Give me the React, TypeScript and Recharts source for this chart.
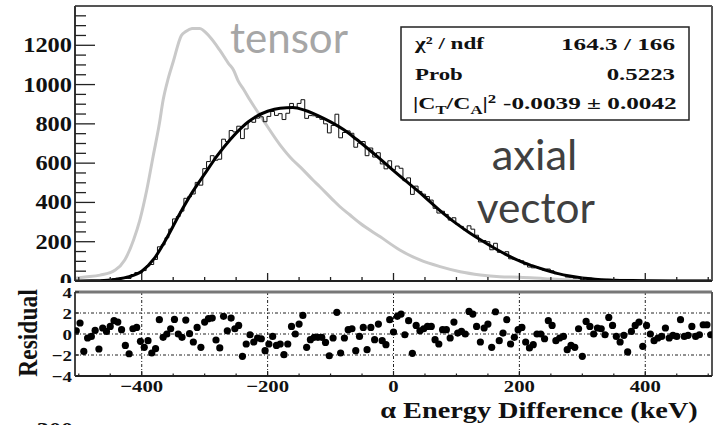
import React from 'react';
import {
  ComposedChart,
  ScatterChart,
  Line,
  Scatter,
  XAxis,
  YAxis,
  ReferenceLine,
  CartesianGrid,
} from 'recharts';

const SERIF = "'Liberation Serif', 'Times New Roman', serif";
const SANS = "Lato, 'Open Sans', sans-serif";

// ---- data -------------------------------------------------------------
const BIN_START = -504; // keV, first bin centre
const BIN_WIDTH = 6; // keV

const HIST_COUNTS = [
  0, 1, 0, 1, 1, 2, 0, 4, 5, 8, 11, 14, 16, 13, 13, 33, 43, 42, 53, 77,
  84, 110, 174, 184, 220, 264, 316, 328, 356, 421, 429, 443, 502, 488, 572, 608, 638, 615, 620, 722,
  710, 766, 759, 788, 725, 774, 814, 808, 829, 836, 811, 838, 863, 843, 852, 822, 854, 904, 880, 904,
  923, 828, 842, 841, 833, 823, 800, 754, 792, 849, 729, 756, 764, 752, 681, 702, 710, 638, 677, 631,
  653, 596, 571, 612, 566, 585, 574, 511, 525, 441, 483, 456, 442, 430, 412, 370, 346, 355, 339, 310,
  322, 289, 278, 260, 281, 264, 233, 199, 206, 200, 159, 192, 146, 144, 149, 113, 111, 109, 103, 83,
  71, 67, 70, 63, 54, 61, 52, 37, 34, 31, 20, 19, 15, 20, 7, 18, 14, 10, 10, 8,
  6, 8, 6, 3, 2, 3, 0, 2, 3, 3, 0, 2, 1, 0, 0, 0, 1, 0, 0, 0,
  1, 0, 0, 1, 0, 0, 1, 1, 0,
];

const RESIDUALS = [
  0.31, 1.05, -1.66, -0.38, -0.23, 0.34, -1.43, 0.57, 0.25, 0.72, 1.27, 1.14, 0.41, -1.09, -1.88, 0.5, 0.63, -0.7, -1.27, -0.64,
  -1.81, -1.4, 1.36, -0.32, 0.0, 0.5, 1.39, 0.0, -0.32, 1.33, 0.03, -0.76, 0.63, -1.27, 1.14, 1.46, 1.52, -0.57, -1.33, 1.68,
  0.31, 1.52, 0.5, 0.82, -2.13, -0.95, -0.07, -0.76, -0.38, -0.45, -1.59, -0.95, -0.23, -1.09, -0.95, -1.97, -0.95, 0.72,
  0.0, 0.95, 1.77, -1.27, -0.54, -0.32, -0.32, -0.32, -0.8, -2.07, -0.38, 2.06, -1.81, -0.38, 0.41, 0.5, -1.59, -0.23, 0.63, -1.49,
  0.63, -0.54, 0.95, -0.64, -1.02, 1.36, 0.19, 1.68, 1.9, -0.07, 1.27, -1.84, 0.82, 0.31, 0.5, 0.72, 0.72, -0.54, -0.95, 0.41,
  0.41, -0.38, 1.14, 0.09, 0.25, 0.0, 2.15, 1.9, 0.72, -0.76, 0.57, 0.95, -1.27, 2.12, -0.64, 0.09, 1.36,
  -0.95, -0.32, 0.41, 0.63, -0.76, -1.33, -1.02, 0.0, 0.0, -0.45, 1.27, 0.82, -0.64, -0.38, -0.23, -1.49, -1.09, -1.27, 0.5, -2.13,
  1.2, 0.72, 0.0, 0.57, 0.5, -0.07, 1.58, 0.82, -0.23, -0.76, -0.13, -1.71, 0.25, 0.82, 1.14, -1.17, 0.82, 0.0, -0.64, -0.38,
  -0.23, 0.57, -0.38, -0.13, -0.23, 1.36, -0.23, -0.13, 0.72, -0.23, -0.07, 0.88, 0.88, -0.07,
];

const FIT_KEV = [
  -506, -480, -460, -440, -420, -400, -380, -360, -340, -320, -300, -280, -260, -240, -230, -220, -200, -180, -160, -140,
  -120, -100, -80, -60, -40, -20, 0, 20, 40, 60, 80, 100, 120, 140, 160, 180, 200, 220, 240, 260,
  280, 300, 320, 340, 360, 380, 400, 450, 506,
];
const FIT_VAL = [
  0, 1, 3, 9, 22, 50, 115, 220, 340, 450, 545, 638, 718, 785, 812, 834, 864, 880, 883, 868,
  842, 810, 772, 724, 672, 618, 562, 508, 455, 398, 342, 292, 247, 206, 168, 133, 102, 78, 57, 39,
  25, 15, 9, 5, 3, 2, 1, 0, 0,
];

const TENSOR_KEV = [
  -506, -490, -466, -442, -427, -413, -403, -392, -382, -372, -366, -358, -350, -337, -330, -320, -308, -292, -276, -262,
  -254, -247, -238, -228, -207, -180, -160, -148, -128, -117, -96, -85, -69, -53, -21, 10, 42, 74, 106, 138,
  169, 201, 240, 277, 320, 400, 506,
];
const TENSOR_VAL = [
  14, 20, 30, 56, 107, 209, 310, 463, 633, 800, 921, 1030, 1116, 1250, 1270, 1285, 1286, 1243, 1175, 1107,
  1073, 1020, 975, 921, 819, 692, 616, 580, 514, 480, 412, 378, 336, 294, 225, 158, 107, 73, 47, 31,
  22, 19, 12, 6, 4, 3, 2,
];

const X_DOMAIN: [number, number] = [-506, 506];
const TOP_Y_DOMAIN: [number, number] = [0, 1400];
const TOP_Y_TICKS = [
  0, 50, 100, 150, 200, 250, 300, 350, 400, 450, 500, 550, 600, 650, 700, 750, 800, 850, 900, 950,
  1000, 1050, 1100, 1150, 1200, 1250, 1300, 1350,
];
const TOP_Y_LABELS = [0, 200, 400, 600, 800, 1000, 1200];
const X_TICKS = [
  -500, -450, -400, -350, -300, -250, -200, -150, -100, -50, 0, 50, 100, 150, 200, 250, 300, 350, 400, 450, 500,
];
const X_LABELS = [-400, -200, 0, 200, 400];
const RES_TICKS = [-4, -2, 0, 2, 4];
const RES_GRID_Y = [-2, 0, 2];

const histData = HIST_COUNTS.map((y, i) => ({ x: BIN_START + i * BIN_WIDTH, y }));
const residData = RESIDUALS.map((r, i) => ({ x: BIN_START + i * BIN_WIDTH, r }));
const fitData = FIT_KEV.map((x, i) => ({ x, y: FIT_VAL[i] }));
const tensorData = TENSOR_KEV.map((x, i) => ({ x, y: TENSOR_VAL[i] }));

const fmt = (v: number) => (v < 0 ? '\u2212' + Math.abs(v) : String(v));

// ---- ticks ------------------------------------------------------------
const TopYTick = (props: any) => {
  const { x, y, payload } = props;
  const v = payload.value;
  const major = v % 200 === 0;
  return (
    <g>
      <line x1={x} y1={y} x2={x + (major ? 20 : 11)} y2={y} stroke="#222" strokeWidth={1.3} />
      {TOP_Y_LABELS.includes(v) && (
        <text
          transform={`translate(${x - 3},${y + 7}) scale(1.22,1)`}
          textAnchor="end"
          fontFamily={SERIF}
          fontWeight="bold"
          fontSize={20}
          fill="#111"
        >
          {fmt(v)}
        </text>
      )}
    </g>
  );
};

const TopXTick = (props: any) => {
  const { x, y, payload } = props;
  const major = payload.value % 200 === 0;
  return <line x1={x} y1={y} x2={x} y2={y - (major ? 8 : 4)} stroke="#222" strokeWidth={1.3} />;
};

const ResYTick = (props: any) => {
  const { x, y, payload } = props;
  const v = payload.value;
  return (
    <g>
      <line x1={x} y1={y} x2={x + 4} y2={y} stroke="#222" strokeWidth={1.2} />
      <text
        transform={`translate(${x - 3},${y + 5.5}) scale(1.22,1)`}
        textAnchor="end"
        fontFamily={SERIF}
        fontWeight="bold"
        fontSize={15.5}
        fill="#111"
      >
        {fmt(v)}
      </text>
    </g>
  );
};

const ResXTick = (props: any) => {
  const { x, y, payload } = props;
  const v = payload.value;
  const major = v % 200 === 0;
  return (
    <g>
      <line x1={x} y1={y} x2={x} y2={y - (major ? 5 : 2.5)} stroke="#222" strokeWidth={1.2} />
      {X_LABELS.includes(v) && (
        <text
          transform={`translate(${x},${y + 15.7}) scale(1.22,1)`}
          textAnchor="middle"
          fontFamily={SERIF}
          fontWeight="bold"
          fontSize={17}
          fill="#111"
        >
          {fmt(v)}
        </text>
      )}
    </g>
  );
};

const Dot = (p: any) => <circle cx={p.cx} cy={p.cy} r={3.6} fill="#000" />;

// ---- component --------------------------------------------------------
export default function App() {
  const boldSerif = { fontFamily: SERIF, fontWeight: 'bold' as const, fill: '#111' };
  return (
    <div
      style={{
        position: 'absolute',
        left: 0,
        top: 0,
        width: 715,
        height: 425,
        background: '#fff',
        overflow: 'hidden',
      }}
    >
      <div style={{ position: 'absolute', left: 0, top: 0 }}>
        <ComposedChart width={715} height={425} margin={{ top: 6, right: 3, bottom: 143, left: 74 }}>
          <XAxis
            type="number"
            dataKey="x"
            domain={X_DOMAIN}
            allowDataOverflow
            ticks={X_TICKS}
            interval={0}
            height={1}
            tickSize={0}
            tickMargin={0}
            tickLine={false}
            tick={TopXTick}
            axisLine={{ stroke: '#222', strokeWidth: 2 }}
          />
          <YAxis
            type="number"
            domain={TOP_Y_DOMAIN}
            allowDataOverflow
            ticks={TOP_Y_TICKS}
            interval={0}
            width={1}
            tickSize={0}
            tickMargin={0}
            tickLine={false}
            tick={TopYTick}
            axisLine={{ stroke: '#333', strokeWidth: 2 }}
          />
          <ReferenceLine y={1400} stroke="#555" strokeWidth={2} />
          <ReferenceLine x={506} stroke="#555" strokeWidth={2} />
          <Line
            data={tensorData}
            dataKey="y"
            type="monotone"
            stroke="#c9c9c9"
            strokeWidth={3}
            dot={false}
            isAnimationActive={false}
          />
          <Line
            data={histData}
            dataKey="y"
            type="step"
            stroke="#111"
            strokeWidth={1}
            dot={false}
            isAnimationActive={false}
          />
          <Line
            data={fitData}
            dataKey="y"
            type="monotone"
            stroke="#000"
            strokeWidth={3}
            dot={false}
            isAnimationActive={false}
          />
        </ComposedChart>
      </div>

      <div style={{ position: 'absolute', left: 0, top: 283, width: 715, height: 142, background: '#fff' }} />

      <div style={{ position: 'absolute', left: 0, top: 0 }}>
        <ScatterChart width={715} height={425} margin={{ top: 292, right: 3, bottom: 48, left: 74 }}>
          <CartesianGrid
            horizontalValues={RES_GRID_Y}
            verticalValues={X_LABELS}
            stroke="#222"
            strokeWidth={1}
            strokeDasharray="3 2 1 2"
          />
          <XAxis
            type="number"
            dataKey="x"
            domain={X_DOMAIN}
            allowDataOverflow
            ticks={X_TICKS}
            interval={0}
            height={1}
            tickSize={0}
            tickMargin={0}
            tickLine={false}
            tick={ResXTick}
            axisLine={{ stroke: '#222', strokeWidth: 2 }}
          />
          <YAxis
            type="number"
            dataKey="r"
            domain={[-4, 4]}
            allowDataOverflow
            ticks={RES_TICKS}
            interval={0}
            width={1}
            tickSize={0}
            tickMargin={0}
            tickLine={false}
            tick={ResYTick}
            axisLine={{ stroke: '#444', strokeWidth: 2 }}
          />
          <ReferenceLine y={4} stroke="#777" strokeWidth={3} />
          <ReferenceLine x={506} stroke="#555" strokeWidth={2} />
          <Scatter data={residData} dataKey="r" shape={Dot} isAnimationActive={false} />
        </ScatterChart>
      </div>

      <svg style={{ position: 'absolute', left: 0, top: 0 }} width={715} height={425}>
        {/* stats box */}
        <rect x={401} y={27} width={288} height={93} fill="#fff" stroke="#222" strokeWidth={1.5} />
        <text x={415} y={48.5} fontSize={17} textLength={69} lengthAdjust="spacingAndGlyphs" {...boldSerif}>
          χ² / ndf
        </text>
        <text x={561} y={49.5} fontSize={17} textLength={114} lengthAdjust="spacingAndGlyphs" {...boldSerif}>
          164.3 / 166
        </text>
        <text x={415} y={80} fontSize={17} textLength={47.7} lengthAdjust="spacingAndGlyphs" {...boldSerif}>
          Prob
        </text>
        <text x={606.7} y={80} fontSize={17} textLength={68.3} lengthAdjust="spacingAndGlyphs" {...boldSerif}>
          0.5223
        </text>
        <text transform="translate(413,108.5) scale(1.4,1)" fontSize={17} {...boldSerif}>
          |C
          <tspan dy={5} fontSize={12}>T</tspan>
          <tspan dy={-5}>/C</tspan>
          <tspan dy={5} fontSize={12}>A</tspan>
          <tspan dy={-5}>|</tspan>
          <tspan dy={-6} fontSize={12}>2</tspan>
        </text>
        <text x={503} y={108.5} fontSize={17} textLength={173.7} lengthAdjust="spacingAndGlyphs" {...boldSerif}>
          -0.0039 ± 0.0042
        </text>

        {/* annotations */}
        <text x={230} y={53.3} fontFamily={SANS} fontSize={42} fill="#a6a6a6" textLength={118} lengthAdjust="spacingAndGlyphs">
          tensor
        </text>
        <text x={491.7} y={170} fontFamily={SANS} fontSize={42} fill="#404040" textLength={85.6} lengthAdjust="spacingAndGlyphs">
          axial
        </text>
        <text x={476.7} y={223.3} fontFamily={SANS} fontSize={42} fill="#404040" textLength={118.3} lengthAdjust="spacingAndGlyphs">
          vector
        </text>

        {/* axis titles */}
        <text
          transform="translate(36.5,333) scale(1.2,1) rotate(-90)"
          textAnchor="middle"
          fontSize={23.5}
          {...boldSerif}
        >
          Residual
        </text>
        <text transform="translate(539,418) scale(1.23,1)" textAnchor="middle" fontSize={23} {...boldSerif}>
          α Energy Difference (keV)
        </text>
        <text transform="translate(55,436.5) scale(1.22,1)" textAnchor="middle" fontSize={20} {...boldSerif}>
          300
        </text>
      </svg>
    </div>
  );
}
